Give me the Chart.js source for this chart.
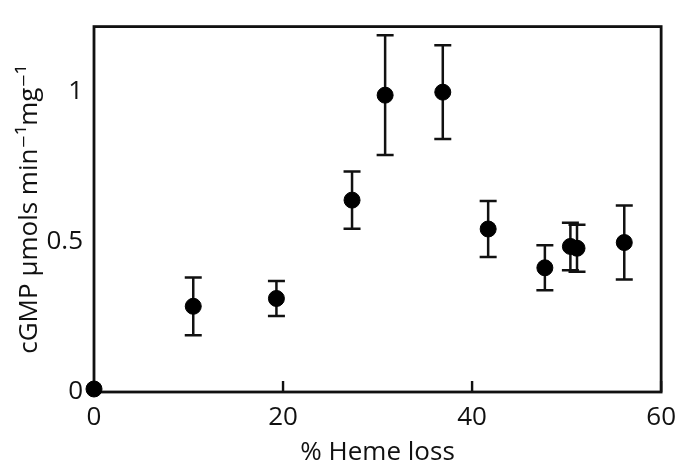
<!DOCTYPE html>
<html>
<head>
<meta charset="utf-8">
<script src="https://cdn.jsdelivr.net/npm/chart.js@4/dist/chart.umd.min.js"></script>
<style>
    html, body { margin: 0; padding: 0; background: #fff; }
    #wrap { width: 686px; height: 468px; position: relative; }
</style>
</head>
<body>
<div id="wrap"><canvas id="chart"></canvas></div>
<script>
// Values
const hemeLoss = [0, 10.5, 19.3, 27.3, 30.8, 36.9, 41.7, 47.7, 50.4, 51.1, 56.1];
const cgmp = [0.01, 0.285, 0.311, 0.638, 0.987, 0.997, 0.542, 0.413, 0.484, 0.478, 0.497];
const cgmpErr = [0, 0.096, 0.058, 0.095, 0.199, 0.156, 0.093, 0.075, 0.079, 0.078, 0.123];
const xTickValues = [0, 20, 40, 60];
const yTickValues = [0, 0.5, 1];

const FONT = "'Open Sans', 'DejaVu Sans', sans-serif";

// Frame, inward x ticks and error bars, drawn under the markers
const errorBarPlugin = {
    id: 'errorBars',
    beforeDatasetsDraw(chart) {
        const ctx = chart.ctx;
        const area = chart.chartArea;
        const xs = chart.scales.x;
        const ys = chart.scales.y;

        ctx.save();
        ctx.strokeStyle = '#111';
        ctx.lineWidth = 2.8;
        ctx.strokeRect(area.left, area.top, area.right - area.left, area.bottom - area.top);

        // tick marks pointing into the plot
        ctx.lineWidth = 2.4;
        ctx.beginPath();
        xTickValues.forEach(v => {
            const px = xs.getPixelForValue(v);
            ctx.moveTo(px, area.bottom);
            ctx.lineTo(px, area.bottom - 11);
        });
        ctx.stroke();

        ctx.lineWidth = 2.5;
        const cap = 8.5;
        hemeLoss.forEach((x, i) => {
            const err = cgmpErr[i];
            if (!err) return;
            const px = xs.getPixelForValue(x);
            const top = ys.getPixelForValue(cgmp[i] + err);
            const bot = ys.getPixelForValue(cgmp[i] - err);
            ctx.beginPath();
            ctx.moveTo(px, top);
            ctx.lineTo(px, bot);
            ctx.moveTo(px - cap, top);
            ctx.lineTo(px + cap, top);
            ctx.moveTo(px - cap, bot);
            ctx.lineTo(px + cap, bot);
            ctx.stroke();
        });
        ctx.restore();
    }
};

const ctx = document.getElementById('chart').getContext('2d');
new Chart(ctx, {
    type: 'scatter',
    data: {
        datasets: [{
            data: hemeLoss.map((x, i) => ({ x: x, y: cgmp[i] })),
            backgroundColor: '#000',
            borderColor: '#000',
            pointRadius: 8,
            pointHoverRadius: 8,
            clip: false
        }]
    },
    options: {
        responsive: true,
        maintainAspectRatio: false,
        animation: false,
        events: [],
        layout: {
            padding: { top: 13, right: 24, bottom: 0, left: 0 }
        },
        plugins: {
            legend: { display: false },
            tooltip: { enabled: false }
        },
        scales: {
            x: {
                type: 'linear',
                min: 0,
                max: 60,
                afterFit: (scale) => { scale.height = 76; },
                afterBuildTicks: (scale) => { scale.ticks = xTickValues.map(v => ({ value: v })); },
                border: { display: false },
                grid: { display: false, drawTicks: false },
                ticks: {
                    padding: 10,
                    color: '#111',
                    font: { family: FONT, size: 26 },
                    maxRotation: 0,
                    callback: (v) => String(v)
                },
                title: {
                    display: true,
                    text: '% Heme loss',
                    color: '#111',
                    font: { family: FONT, size: 26 },
                    padding: { top: 0, bottom: 0 }
                }
            },
            y: {
                type: 'linear',
                min: 0,
                max: 1.215,
                afterFit: (scale) => { scale.width = 94; },
                afterBuildTicks: (scale) => { scale.ticks = yTickValues.map(v => ({ value: v })); },
                border: { display: false },
                grid: { display: false, drawTicks: false },
                ticks: {
                    padding: 11,
                    color: '#111',
                    font: { family: FONT, size: 26 },
                    callback: (v) => String(v)
                },
                title: {
                    display: true,
                    text: 'cGMP \u03bcmols min\u207b\u00b9mg\u207b\u00b9',
                    color: '#111',
                    font: { family: FONT, size: 26 },
                    padding: { top: 14, bottom: 0 }
                }
            }
        }
    },
    plugins: [errorBarPlugin]
});
</script>
</body>
</html>
